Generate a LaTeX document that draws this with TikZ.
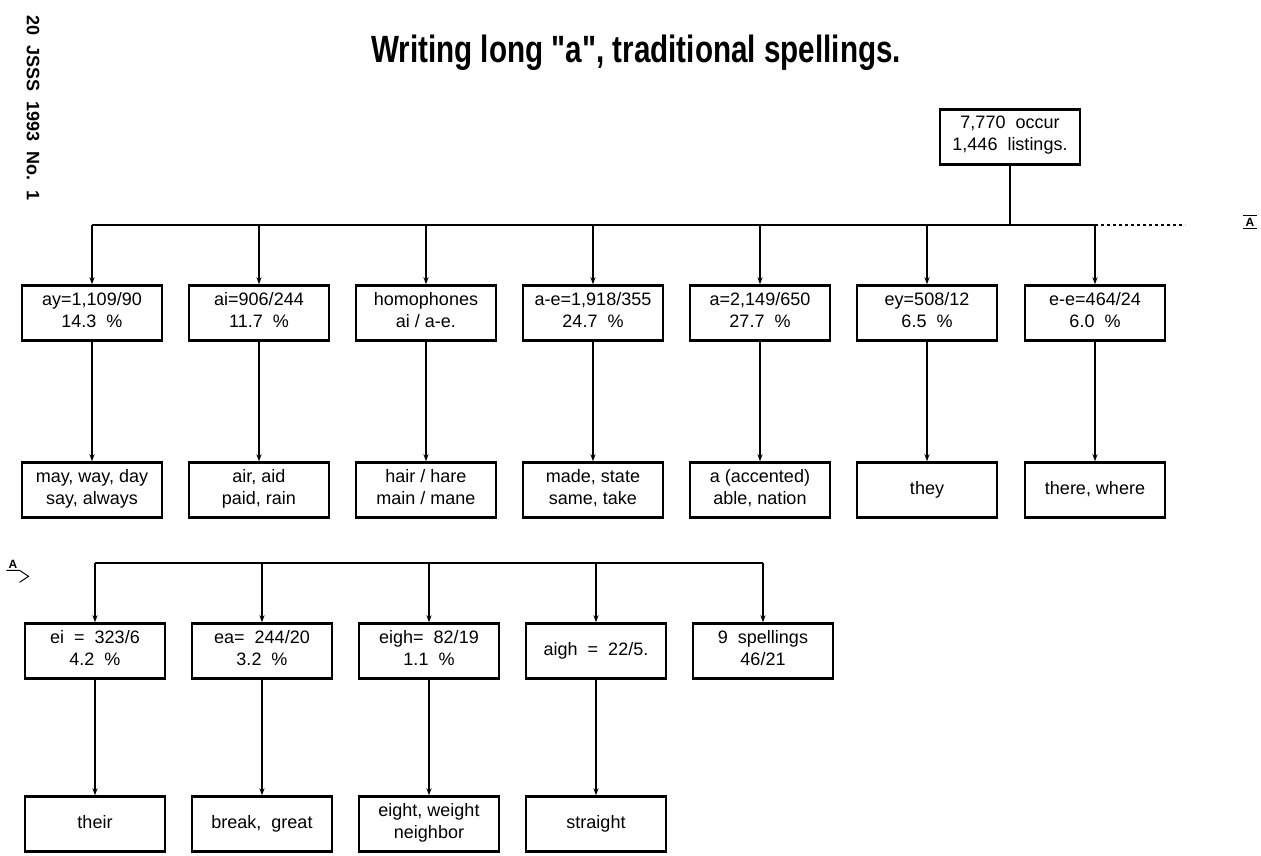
\documentclass[tikz,border=0pt]{standalone}
\usepackage{fontspec}
\setmainfont{Liberation Sans}[Ligatures=TeXOff]
\usepackage{graphicx}
\usetikzlibrary{arrows.meta}

\tikzset{
  spellbox/.style={draw, line width=2.4pt, minimum width=140pt, minimum height=55pt,
    align=center, inner sep=1pt, font=\fontsize{18}{22}\selectfont,
    execute at begin node=\strut, execute at end node=\strut},
  busline/.style={line width=1.3pt},
  conn/.style={line width=1.3pt, -{Stealth[length=7pt,width=5pt]}}
}

\begin{document}
\begin{tikzpicture}[x=1pt,y=-1pt]
            % 背景与边界
            \fill[white] (0,0) rectangle (1261,856);
            \useasboundingbox (0,0) rectangle (1261,856);

            % 标题与页边文字
            \node[anchor=base, font=\fontsize{38}{40}\selectfont\bfseries] (title) at (636,63)
                {\scalebox{0.78}[1]{Writing long "a", traditional spellings.}};
            \node[anchor=west, rotate=-90, font=\fontsize{18}{20}\selectfont\bfseries] (side) at (33,12)
                {20\ \ JSSS\ \ 1993\ \ No.\ \ 1};

            % 根节点
            \node[spellbox] (root) at (1010,137) {7,770\ \ occur\\1,446\ \ listings.};

            % 第一行: 拼写与比例
            \node[spellbox] (ay) at (92,313) {ay=1,109/90\\14.3\ \ \%};
            \node[spellbox] (ai) at (259,313) {ai=906/244\\11.7\ \ \%};
            \node[spellbox] (homo) at (426,313) {homophones\\ai\ /\ a-e.};
            \node[spellbox] (ae) at (593,313) {a-e=1,918/355\\24.7\ \ \%};
            \node[spellbox] (a) at (760,313) {a=2,149/650\\27.7\ \ \%};
            \node[spellbox] (ey) at (927,313) {ey=508/12\\6.5\ \ \%};
            \node[spellbox] (ee) at (1095,313) {e-e=464/24\\6.0\ \ \%};

            % 第二行: 例词
            \node[spellbox] (ayx) at (92,490) {may,\ way,\ day\\say,\ always};
            \node[spellbox] (aix) at (259,490) {air,\ aid\\paid,\ rain};
            \node[spellbox] (homox) at (426,490) {hair\ /\ hare\\main\ /\ mane};
            \node[spellbox] (aex) at (593,490) {made,\ state\\same,\ take};
            \node[spellbox] (ax) at (760,490) {a\ (accented)\\able,\ nation};
            \node[spellbox] (eyx) at (927,490) {they};
            \node[spellbox] (eex) at (1095,490) {there,\ where};

            % 第三行: 续接
            \node[spellbox] (ei) at (95,651) {ei\ \ =\ \ 323/6\\4.2\ \ \%};
            \node[spellbox] (ea) at (262,651) {ea=\ \ 244/20\\3.2\ \ \%};
            \node[spellbox] (eigh) at (429,651) {eigh=\ \ 82/19\\1.1\ \ \%};
            \node[spellbox] (aigh) at (596,651) {aigh\ \ =\ \ 22/5.};
            \node[spellbox] (nine) at (763,651) {9\ \ spellings\\46/21};

            % 第四行: 例词
            \node[spellbox] (eix) at (95,824) {their};
            \node[spellbox] (eax) at (262,824) {break,\ \ great};
            \node[spellbox] (eighx) at (429,824) {eight,\ weight\\neighbor};
            \node[spellbox] (aighx) at (596,824) {straight};

            % 续接标记 A
            \node[font=\fontsize{12}{12}\selectfont\bfseries, inner sep=2pt] (markR) at (1250,222) {A};
            \draw[line width=1pt] (markR.north west) -- (markR.north east);
            \draw[line width=1pt] (markR.south west) -- (markR.south east);
            \node[font=\fontsize{12}{12}\selectfont\bfseries, inner sep=2pt] (markL) at (13,564) {A};
            \draw[line width=1pt] (markL.south west) -- (markL.south east) -- ++(9,6) -- ++(-9,6);

            % 上方总线
            \coordinate (busA) at (0,225);
            \coordinate (busEnd) at (1185,225);
            \draw[busline] (root.south) -- (root.south |- busA);
            \draw[busline] (ay.north |- busA) -- (ee.north |- busA);
            \draw[busline, dashed] (ee.north |- busA) -- (busEnd);
            \foreach \n in {ay,ai,homo,ae,a,ey,ee} {
                \draw[conn] (\n.north |- busA) -- (\n.north);
            }

            % 第一行到第二行
            \foreach \n in {ay,ai,homo,ae,a,ey,ee} {
                \draw[conn] (\n.south) -- (\n x.north);
            }

            % 下方总线
            \coordinate (busB) at (0,563);
            \draw[busline] (ei.north |- busB) -- (nine.north |- busB);
            \foreach \n in {ei,ea,eigh,aigh,nine} {
                \draw[conn] (\n.north |- busB) -- (\n.north);
            }

            % 第三行到第四行
            \foreach \n in {ei,ea,eigh,aigh} {
                \draw[conn] (\n.south) -- (\n x.north);
            }
        \end{tikzpicture}
\end{document}
